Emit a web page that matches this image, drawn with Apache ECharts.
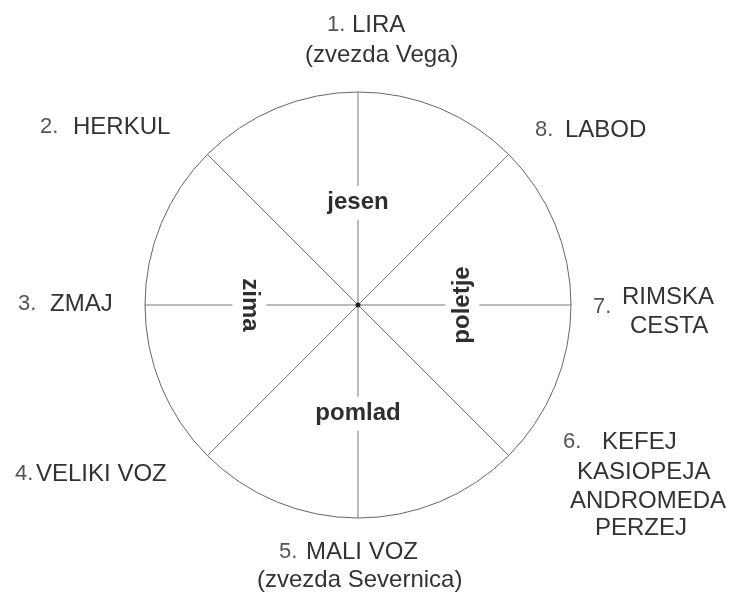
<!DOCTYPE html>
<html lang="sl">
<head>
<meta charset="UTF-8">
<title>Ozvezdja in letni časi</title>
<script src="https://cdn.jsdelivr.net/npm/echarts@6/dist/echarts.min.js"></script>
<style>
  html, body { margin: 0; padding: 0; background: #fff; }
  #chart { width: 732px; height: 593px; }
</style>
</head>
<body>
<div id="chart"></div>
<script>
// data
var constellationNums = ['1.', '2.', '3.', '4.', '5.', '6.', '7.', '8.'];
var constellationNames = ['LIRA', 'HERKUL', 'ZMAJ', 'VELIKI VOZ', 'MALI VOZ', 'KEFEJ', 'RIMSKA', 'LABOD'];
var starNames = ['(zvezda Vega)', '(zvezda Severnica)'];
var extraNames = ['KASIOPEJA', 'ANDROMEDA', 'PERZEJ', 'CESTA'];
var seasons = ['jesen', 'zima', 'pomlad', 'poletje'];
var seasonAngles = [90, 180, 270, 0];
var seasonRadius = [0.48, 0.51, 0.51, 0.49];
var seasonRotate = [0, -90, 0, 90];

var FONT = '"Liberation Sans", Arial, sans-serif';
var INK = '#333';

var myChart = echarts.init(document.getElementById('chart'));

// where each outer label sits (left x, middle y)
var numPos = [[327, 25], [40, 127], [18, 304], [15, 474], [279, 552], [563, 442], [593, 307], [535, 130]];
var namePos = [[352, 25], [73, 127], [50, 304], [36, 474], [306, 552], [602, 442], [622, 297], [565, 130]];
var starPos = [[305, 55], [257, 580]];
var extraPos = [[577, 472], [570, 501], [595, 528], [630, 326]];

function txt(text, p, size, color) {
    return {
        type: 'text',
        x: p[0],
        y: p[1],
        style: {
            text: text,
            font: size + 'px ' + FONT,
            fill: color,
            align: 'left',
            verticalAlign: 'middle'
        }
    };
}

var graphics = [];
constellationNums.forEach(function (n, i) {
    graphics.push(txt(n, numPos[i], 22, '#555'));
    graphics.push(txt(constellationNames[i], namePos[i], 24, INK));
});
starNames.forEach(function (s, i) { graphics.push(txt(s, starPos[i], 24, INK)); });
extraNames.forEach(function (s, i) { graphics.push(txt(s, extraPos[i], 24, INK)); });

var seasonData = seasons.map(function (s, i) {
    return {
        name: s,
        value: [seasonRadius[i], seasonAngles[i]],
        label: { rotate: seasonRotate[i] }
    };
});

var options = {
    animation: false,
    polar: {
        center: [358, 305],
        radius: 213
    },
    angleAxis: {
        type: 'value',
        min: 0,
        max: 360,
        interval: 45,
        startAngle: 0,
        clockwise: false,
        axisLine: { show: true, lineStyle: { color: '#666', width: 1 } },
        axisTick: { show: false },
        axisLabel: { show: false },
        splitLine: { show: true, lineStyle: { color: '#777', width: 1 } }
    },
    radiusAxis: {
        type: 'value',
        min: 0,
        max: 1,
        axisLine: { show: false },
        axisTick: { show: false },
        axisLabel: { show: false },
        splitLine: { show: false }
    },
    series: [
        {
            type: 'scatter',
            coordinateSystem: 'polar',
            symbolSize: 0,
            itemStyle: { opacity: 1 },
            data: seasonData,
            label: {
                show: true,
                position: 'inside',
                formatter: '{b}',
                fontFamily: FONT,
                fontWeight: 'bold',
                fontSize: 24,
                color: '#2e2e2e',
                opacity: 1,
                backgroundColor: '#fff',
                padding: [5, 5, 5, 5]
            },
            z: 5
        },
        {
            type: 'scatter',
            coordinateSystem: 'polar',
            symbolSize: 5,
            itemStyle: { color: '#222', opacity: 1 },
            data: [[0, 0]],
            z: 6
        }
    ],
    graphic: graphics
};

myChart.setOption(options);
</script>
</body>
</html>
